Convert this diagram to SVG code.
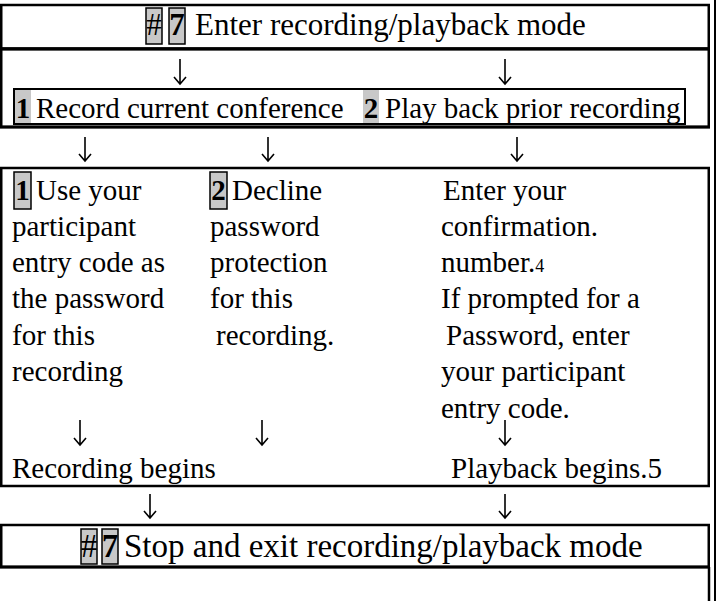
<svg xmlns="http://www.w3.org/2000/svg" width="716" height="601" viewBox="0 0 716 601">
<style>
text{font-family:"Liberation Serif","DejaVu Serif",serif;font-size:29px;fill:#000}
.b{font-weight:bold}
.sm{font-size:18px}
.big{font-size:31px}
.big2{font-size:33px}
.frame{fill:none;stroke:#000;stroke-width:2.5}
.inner{fill:none;stroke:#000;stroke-width:2}
.badge{fill:#c8c8c8;stroke:#000;stroke-width:1.5}
.shade{fill:#c8c8c8}
.arr{fill:none;stroke:#000;stroke-width:1.6}
</style>
<rect width="716" height="601" fill="#fff"/>
<line x1="715" y1="0" x2="715" y2="601" stroke="#000" stroke-width="2"/>

<g id="enter-mode">
<rect class="frame" x="1.25" y="5" width="707.5" height="43.5"/>
<line x1="0" y1="49" x2="710" y2="49" stroke="#000" stroke-width="3"/>
<rect class="badge" x="146" y="8" width="16" height="36"/>
<text class="big" x="154" y="35" text-anchor="middle">#</text>
<rect class="badge" x="169" y="8" width="16" height="36"/>
<text class="big b" x="177" y="35" text-anchor="middle">7</text>
<text class="big" x="195" y="35">Enter recording/playback mode</text>
</g>

<g id="choose-mode">
<rect class="frame" x="1.25" y="49" width="707.5" height="78"/>
<line x1="0" y1="127" x2="710" y2="127" stroke="#000" stroke-width="3"/>
<rect class="inner" x="14" y="89" width="671" height="35"/>
<rect class="shade" x="15" y="90" width="16" height="33"/>
<text class="b" x="23" y="118" text-anchor="middle">1</text>
<text x="36" y="118">Record current conference</text>
<rect class="shade" x="363" y="90" width="16" height="33"/>
<text class="b" x="371" y="118" text-anchor="middle">2</text>
<text x="385" y="118">Play back prior recording</text>
</g>

<g id="options">
<rect class="frame" x="1.25" y="168" width="707.5" height="318"/>
<rect class="badge" x="14" y="172" width="17" height="37"/>
<text class="b" x="22.5" y="200" text-anchor="middle">1</text>
<text x="36" y="200">Use your</text>
<text x="12" y="236">participant</text>
<text x="12" y="272">entry code as</text>
<text x="12" y="308">the password</text>
<text x="12" y="345">for this</text>
<text x="12" y="381">recording</text>

<rect class="badge" x="210" y="172" width="17" height="37"/>
<text class="b" x="218.5" y="200" text-anchor="middle">2</text>
<text x="232" y="200">Decline</text>
<text x="210" y="236">password</text>
<text x="210" y="272">protection</text>
<text x="210" y="308">for this</text>
<text x="216" y="345">recording.</text>

<text x="443" y="200">Enter your</text>
<text x="441" y="236">confirmation.</text>
<text x="441" y="272">number.<tspan class="sm">4</tspan></text>
<text x="441" y="308">If prompted for a</text>
<text x="446" y="345">Password, enter</text>
<text x="441" y="381">your participant</text>
<text x="441" y="418">entry code.</text>

<text x="12" y="478">Recording begins</text>
<text x="451" y="478">Playback begins.5</text>
</g>

<g id="stop-mode">
<rect class="frame" x="1.25" y="525" width="707.5" height="42"/>
<line x1="0" y1="567" x2="710" y2="567" stroke="#000" stroke-width="3"/>
<rect class="badge" x="81" y="529" width="16" height="35"/>
<text class="big2" x="89" y="557" text-anchor="middle">#</text>
<rect class="badge" x="102" y="529" width="16" height="35"/>
<text class="big2 b" x="110" y="557" text-anchor="middle">7</text>
<text class="big2" x="124" y="557">Stop and exit recording/playback mode</text>
<line x1="709" y1="567" x2="709" y2="601" stroke="#000" stroke-width="2.5"/>
</g>

<g id="connectors">
<path class="arr" d="M180 59V84M174 77L180 84L186 77"/>
<path class="arr" d="M505 59V84M499 77L505 84L511 77"/>
<path class="arr" d="M85 137V161M79 154L85 161L91 154"/>
<path class="arr" d="M268 137V161M262 154L268 161L274 154"/>
<path class="arr" d="M517 137V161M511 154L517 161L523 154"/>
<path class="arr" d="M80 420V445M74 438L80 445L86 438"/>
<path class="arr" d="M262 420V445M256 438L262 445L268 438"/>
<path class="arr" d="M505 420V445M499 438L505 445L511 438"/>
<path class="arr" d="M150 494V518M144 511L150 518L156 511"/>
<path class="arr" d="M505 494V518M499 511L505 518L511 511"/>
</g>
</svg>
